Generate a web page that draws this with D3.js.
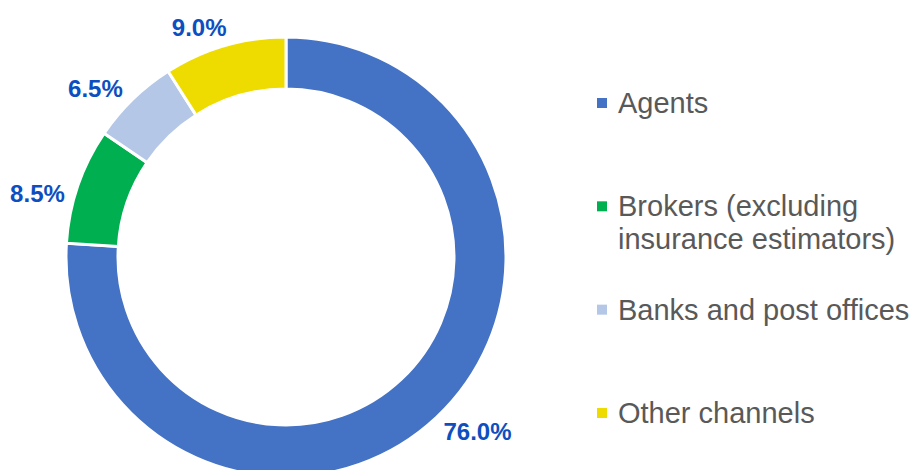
<!DOCTYPE html>
<html>
<head>
<meta charset="utf-8">
<script src="https://cdn.jsdelivr.net/npm/d3@7"></script>
<style>
  body { margin: 0; background: #fff; }
</style>
</head>
<body>
<div id="chart"></div>
<script>
// chart values
var categories = ["Agents", "Brokers (excluding insurance estimators)", "Banks and post offices", "Other channels"];
var legendLines = [["Agents"], ["Brokers (excluding", "insurance estimators)"], ["Banks and post offices"], ["Other channels"]];
var shares = [76.0, 8.5, 6.5, 9.0];
var colors = ["#4472C4", "#00B050", "#B4C7E7", "#EEDC00"];

var width = 914, height = 470;
var cx = 286, cy = 257,
    outerR = 220, innerR = 168;

var svg = d3.select("#chart")
  .append("svg")
    .attr("width", width)
    .attr("height", height);

var g = svg.append("g")
    .attr("transform", "translate(" + cx + "," + cy + ")");

var pie = d3.pie()
    .sort(null)
    .value(function (d) { return d; });

var arc = d3.arc()
    .innerRadius(innerR)
    .outerRadius(outerR);

var arcs = pie(shares);

g.selectAll("path")
  .data(arcs)
  .enter()
  .append("path")
    .attr("d", arc)
    .attr("fill", function (d, i) { return colors[i]; })
    .attr("stroke", "#fff")
    .attr("stroke-width", 3);

// data labels outside the ring, box pushed off the outer edge
var labelShift = -4.5 * Math.PI / 180;
var labelH = 17;
g.selectAll(".lbl")
  .data(arcs)
  .enter()
  .append("text")
    .attr("class", "lbl")
    .attr("dy", "0.35em")
    .attr("text-anchor", "middle")
    .style("font-family", "'Liberation Sans', Arial, sans-serif")
    .style("font-weight", "bold")
    .style("font-size", "24px")
    .style("fill", "#0D4FC0")
    .text(function (d) { return d.value.toFixed(1) + "%"; })
    .each(function (d) {
      var w = this.getComputedTextLength();
      var a = (d.startAngle + d.endAngle) / 2 + labelShift;
      var r = outerR + 8 + w / 2 * Math.abs(Math.sin(a)) + labelH / 2 * Math.abs(Math.cos(a));
      d3.select(this)
        .attr("x", r * Math.sin(a))
        .attr("y", -r * Math.cos(a));
    });

// legend
var ly = d3.scaleLinear().domain([0, categories.length - 1]).range([113, 423]);
var legend = svg.append("g");

var items = legend.selectAll(".item")
  .data(categories)
  .enter()
  .append("g")
    .attr("class", "item")
    .attr("transform", function (d, i) { return "translate(597," + ly(i) + ")"; });

items.append("rect")
    .attr("x", 0)
    .attr("y", -15)
    .attr("width", 10)
    .attr("height", 10)
    .attr("fill", function (d, i) { return colors[i]; });

items.append("text")
    .attr("x", 21)
    .attr("y", 0)
    .style("font-family", "'Liberation Sans', Arial, sans-serif")
    .style("font-size", "29px")
    .style("fill", "#595959")
    .each(function (d, i) {
      var t = d3.select(this);
      legendLines[i].forEach(function (line, k) {
        t.append("tspan")
          .attr("x", 21)
          .attr("dy", k === 0 ? 0 : 33)
          .text(line);
      });
    });
</script>
</body>
</html>
